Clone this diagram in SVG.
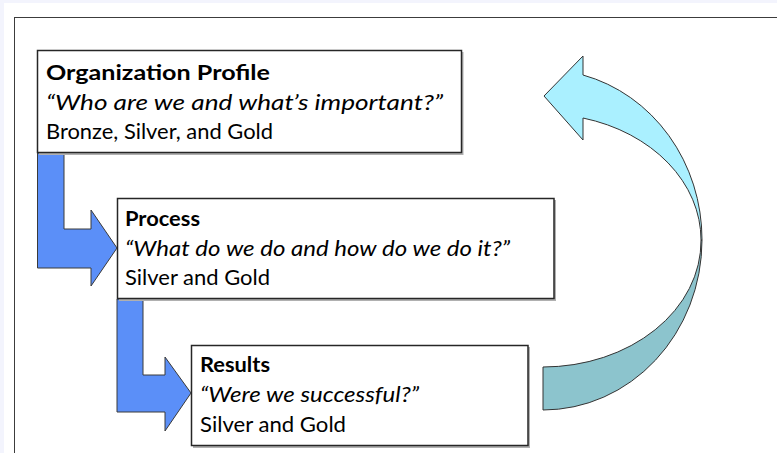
<svg xmlns="http://www.w3.org/2000/svg" width="777" height="453" viewBox="0 0 777 453">
  <style>
    .box { fill: #ffffff; stroke: #262626; stroke-width: 1.5; }
    .shadow { fill: #b0b0b0; }
    .flow { fill: #5b8ff8; stroke: #3a3a3a; stroke-width: 1; stroke-linejoin: miter; }
    .loop-front { fill: #aaf0ff; stroke: #333333; stroke-width: 1; }
    .loop-back { fill: #8cc4cd; stroke: #333333; stroke-width: 1; }
    text { font-family: Lato, "Liberation Sans", Arial, sans-serif; font-size: 21.5px; fill: #000000; }
    .title { font-weight: bold; }
    .quote { font-style: italic; }
  </style>

  <!-- page backdrop and frame -->
  <rect x="0" y="0" width="777" height="453" fill="#f3f4fd"/>
  <rect x="4" y="3" width="773" height="450" fill="#ffffff"/>
  <rect x="14.5" y="17.5" width="780" height="460" fill="#ffffff" stroke="#3c3c3c" stroke-width="1"/>

  <g id="connectors">
    <!-- bent arrow: profile to process -->
    <path class="flow" d="M37.5,153 L64,153 L64,229 L91,229 L91,210 L117,248 L91,286 L91,268 L37.5,268 Z"/>
    <!-- bent arrow: process to results -->
    <path class="flow" d="M117,299 L143,299 L143,375 L165,375 L165,357 L191,393 L165,431 L165,412 L117,412 Z"/>
    <!-- curved return arrow, back part -->
    <path class="loop-back" d="M543,367 A158,126 0 0 0 701,240 L702,240 A159,170 0 0 1 543,410 Z"/>
    <!-- curved return arrow, front part with head -->
    <path class="loop-front" d="M583,56 L544,96 L583,140 L583,118 A158,126 0 0 1 701,240 L702,240 A159,170 0 0 0 583,75 Z"/>
  </g>

  <g id="profile">
    <rect class="shadow" x="39" y="52" width="424.5" height="103"/>
    <rect class="box" x="37.5" y="50.5" width="424" height="102"/>
    <text class="title" x="46" y="80" textLength="224" lengthAdjust="spacingAndGlyphs">Organization Profile</text>
    <text class="quote" x="46" y="110" textLength="397" lengthAdjust="spacingAndGlyphs">“Who are we and what’s important?”</text>
    <text x="46" y="139" textLength="227" lengthAdjust="spacingAndGlyphs">Bronze, Silver, and Gold</text>
  </g>

  <g id="process">
    <rect class="shadow" x="119" y="200" width="437" height="101"/>
    <rect class="box" x="117.5" y="198.5" width="436.5" height="100"/>
    <text class="title" x="125" y="226" textLength="75" lengthAdjust="spacingAndGlyphs">Process</text>
    <text class="quote" x="125" y="256" textLength="385" lengthAdjust="spacingAndGlyphs">“What do we do and how do we do it?”</text>
    <text x="125" y="285" textLength="145" lengthAdjust="spacingAndGlyphs">Silver and Gold</text>
  </g>

  <g id="results">
    <rect class="shadow" x="193" y="347" width="337" height="101"/>
    <rect class="box" x="191.5" y="345.5" width="336.5" height="100"/>
    <text class="title" x="200" y="372" textLength="70" lengthAdjust="spacingAndGlyphs">Results</text>
    <text class="quote" x="200" y="402" textLength="219" lengthAdjust="spacingAndGlyphs">“Were we successful?”</text>
    <text x="200" y="432" textLength="146" lengthAdjust="spacingAndGlyphs">Silver and Gold</text>
  </g>
</svg>
